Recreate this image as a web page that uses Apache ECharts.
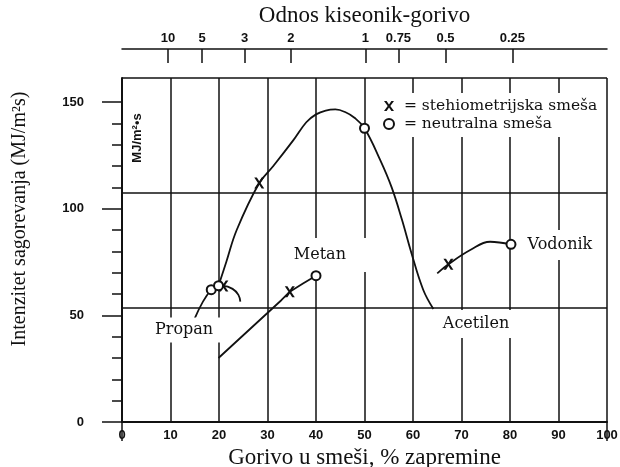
<!DOCTYPE html>
<html lang="sr">
<head>
<meta charset="UTF-8">
<title>Intenzitet sagorevanja</title>
<script src="https://cdn.jsdelivr.net/npm/echarts@6/dist/echarts.min.js"></script>
<style>
  body{margin:0;padding:0;background:#fff;}
  #chart{width:620px;height:467px;}
</style>
</head>
<body>
<div id="chart"></div>
<script>
// vrednosti procitane sa slike: [% goriva u smesi, MJ/m2s]
var acetilen = [[19.9,63.9],[21.5,75],[23.65,90],[28.3,112],[31.2,120],[35.3,132],[38,140.5],[40,144.2],[42,146],[44,146.5],[46,145.3],[48,142.5],[50,137.7],[53.2,123],[55.6,110],[57.7,95],[59.7,79],[62.1,62],[64.2,53]];
var propan = [[15,48.6],[18.4,62],[20.9,63.8],[22.8,62.4],[24,59.6],[24.4,56.4]];
var metan = [[19.9,30],[32.9,57.2],[34.6,61.1],[37.4,65],[40,68.6]];
var vodonik = [[65,69.7],[67.3,73.9],[71.8,80.6],[75.9,84.5],[80.2,83.3]];
var stehiometrijska = [[28.3,112],[20.9,63.8],[34.6,61.1],[67.3,73.9]];
var neutralna = [[50,137.7],[18.4,62],[19.9,63.9],[40,68.6],[80.2,83.3]];

var gasNames = ['Propan','Metan','Acetilen','Vodonik'];
var gasLabelAt = [[12.8,44.1],[40.8,79.2],[73,46.9],[90.3,83.9]];

// gornja skala: odnos kiseonik-gorivo
var ratioText = ['10','5','3','2','1','0.75','0.5','0.25'];
var ratioAt = [9.5,16.5,25.3,34.8,50.2,57,66.7,80.5];

var yMajor = [0,50,100,150];
var yMinor = [10,20,30,40,60,70,80,90,110,120,130,140];

var INK = '#111';
var xPath = 'path://M0,0H2.6L5,3.4L7.4,0H10L6.3,5L10,10H7.4L5,6.6L2.6,10H0L3.7,5Z';
// bele podloge oko naziva (prekidaju mrezu kao na originalu): [gore, desno, dole, levo]
var labelPad = { Propan:[0,9,9,3], Metan:[18,22,0,2], Acetilen:[5,3,7,2], Vodonik:[8,2,6,2] };

var chart = echarts.init(document.getElementById('chart'));

function curve(name, data, smooth) {
  return {
    name: name, type: 'line', data: data, smooth: smooth,
    symbol: 'none', z: 2,
    lineStyle: { color: INK, width: 1.8 }
  };
}

function gasLabel(name) {
  var p = labelPad[name];
  // vodoravni padding pomera tekst, pa ga vracamo na tacku
  return { padding: p, offset: [(p[1] - p[3]) / 2, 2] };
}

var option = {
  animation: false,
  grid: { left: 122, right: 13, top: 78, bottom: 45, outerBoundsMode: 'none' },
  legend: {
    data: ['stehiometrijska smeša', 'neutralna smeša'],
    orient: 'vertical', left: 379, top: 93,
    itemWidth: 10, itemHeight: 10, itemGap: 2,
    padding: [5, 2, 5, 4],
    backgroundColor: '#fff',
    selectedMode: false,
    formatter: function (n) { return ' = ' + n; },
    textStyle: { fontFamily: 'DejaVu Serif', fontSize: 15.5, color: INK }
  },
  graphic: [{
    type: 'text', x: 137, y: 138, rotation: Math.PI / 2,
    style: { text: 'MJ/m²•s', font: 'bold 13px "Liberation Sans"', fill: INK, align: 'center', verticalAlign: 'middle' }
  }],
  xAxis: [{
    type: 'value', min: 0, max: 100, interval: 10,
    name: 'Gorivo u smeši, % zapremine', nameLocation: 'middle', nameGap: 24,
    nameTextStyle: { fontFamily: 'Liberation Serif', fontSize: 23, color: INK },
    axisLine: { onZero: false, lineStyle: { color: INK, width: 2 } },
    axisTick: { show: false },
    axisLabel: { margin: 7, fontFamily: 'Liberation Sans', fontWeight: 'bold', fontSize: 13, color: INK },
    splitLine: { show: true, lineStyle: { color: INK, width: 1.5 } }
  }, {
    type: 'value', position: 'top', offset: 29, min: 0, max: 100,
    name: 'Odnos kiseonik-gorivo', nameLocation: 'middle', nameGap: 18,
    nameTextStyle: { fontFamily: 'Liberation Serif', fontSize: 23, color: INK },
    axisLine: { onZero: false, lineStyle: { color: INK, width: 1.5 } },
    axisTick: { inside: true, length: 14, customValues: ratioAt, lineStyle: { color: INK, width: 1.5 } },
    axisLabel: {
      margin: 4, customValues: ratioAt,
      fontFamily: 'Liberation Sans', fontWeight: 'bold', fontSize: 13, color: INK,
      formatter: function (v) { var i = ratioAt.indexOf(v); return i < 0 ? '' : ratioText[i]; }
    },
    splitLine: { show: false }
  }, {
    type: 'value', position: 'top', offset: 29, min: 0, max: 100, interval: 100,
    axisLine: { show: false },
    axisTick: { show: true, inside: true, length: 19, lineStyle: { color: INK, width: 1.5 } },
    axisLabel: { show: false },
    splitLine: { show: false }
  }],
  yAxis: [{
    type: 'value', min: 0, max: 161.25, interval: 50, offset: 10,
    name: 'Intenzitet sagorevanja (MJ/m²s)', nameLocation: 'middle', nameGap: 82,
    nameTextStyle: { fontFamily: 'Liberation Serif', fontSize: 20, color: INK, padding: [0, 0, 0, 62] },
    axisLine: { show: true, lineStyle: { color: INK, width: 2 } },
    axisTick: { length: 20, customValues: yMajor, lineStyle: { color: INK, width: 1.5 } },
    axisLabel: { margin: 28, customValues: yMajor, fontFamily: 'Liberation Sans', fontWeight: 'bold', fontSize: 13, color: INK },
    splitLine: { show: false }
  }, {
    type: 'value', position: 'right', min: 0, max: 3, interval: 1,
    axisLine: { show: false },
    axisTick: { show: false },
    axisLabel: { show: false },
    splitLine: { show: true, lineStyle: { color: INK, width: 1.5 } }
  }, {
    type: 'value', position: 'left', offset: 10, min: 0, max: 161.25,
    axisLine: { show: false },
    axisTick: { length: 10, customValues: yMinor, lineStyle: { color: INK, width: 1.5 } },
    axisLabel: { show: false },
    splitLine: { show: false }
  }],
  series: [
    curve('Acetilen', acetilen, 0.4),
    curve('Propan', propan, 0.4),
    curve('Metan', metan, false),
    curve('Vodonik', vodonik, 0.4),
    {
      name: 'stehiometrijska smeša', type: 'scatter', data: stehiometrijska, z: 4,
      symbol: xPath, symbolSize: [10, 11],
      itemStyle: { color: INK, opacity: 1 }
    },
    {
      name: 'neutralna smeša', type: 'scatter', data: neutralna, z: 4,
      symbol: 'circle', symbolSize: 9,
      itemStyle: { color: '#fff', borderColor: INK, borderWidth: 2, opacity: 1 }
    },
    {
      name: 'nazivi', type: 'scatter', z: 3, symbolSize: 1, silent: true,
      itemStyle: { color: 'transparent', opacity: 1 },
      data: gasLabelAt.map(function (p, i) {
        return { value: p, name: gasNames[i], label: gasLabel(gasNames[i]) };
      }),
      label: {
        show: true, position: 'inside',
        fontFamily: 'DejaVu Serif', fontSize: 16, color: INK,
        backgroundColor: '#fff',
        formatter: function (p) { return p.name; }
      }
    }
  ]
};

chart.setOption(option);
</script>
</body>
</html>
